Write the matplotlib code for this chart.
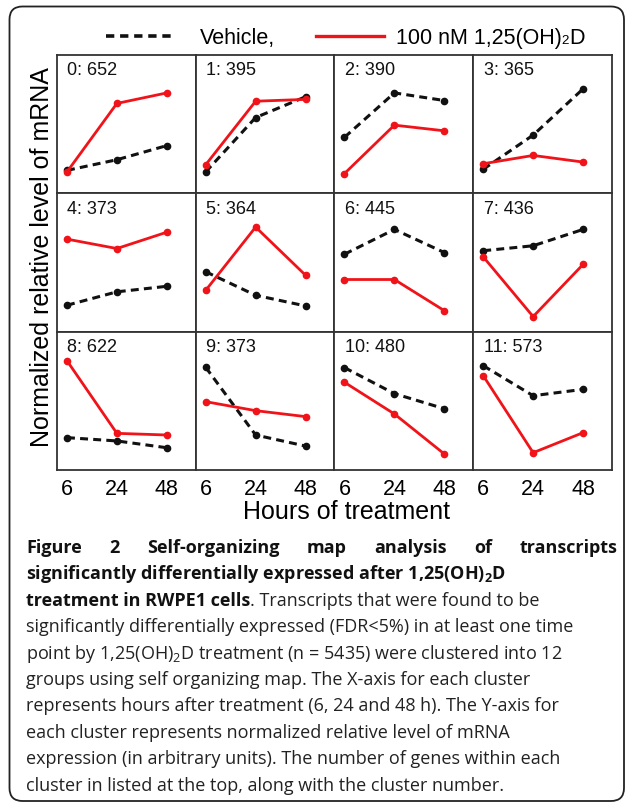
import matplotlib
matplotlib.use("Agg")
import matplotlib.pyplot as plt
from matplotlib.lines import Line2D
from matplotlib.patches import FancyBboxPatch

plt.rcParams['font.family'] = ['Liberation Sans', 'DejaVu Sans']
plt.rcParams['mathtext.fontset'] = 'custom'
plt.rcParams['mathtext.rm'] = 'Open Sans'
plt.rcParams['mathtext.bf'] = 'Open Sans:bold'

# ---------------- data ----------------
hours = ["6", "24", "48"]
cluster_ids = [0, 1, 2, 3, 4, 5, 6, 7, 8, 9, 10, 11]
gene_counts = [652, 395, 390, 365, 373, 364, 445, 436, 622, 373, 480, 573]
vehicle = [
    [0.166, 0.243, 0.345],
    [0.155, 0.548, 0.698],
    [0.405, 0.726, 0.671],
    [0.174, 0.421, 0.755],
    [0.191, 0.288, 0.328],
    [0.433, 0.263, 0.186],
    [0.560, 0.739, 0.572],
    [0.585, 0.621, 0.739],
    [0.234, 0.210, 0.161],
    [0.742, 0.253, 0.173],
    [0.740, 0.552, 0.443],
    [0.754, 0.537, 0.583],
]
treated = [
    [0.155, 0.650, 0.726],
    [0.207, 0.666, 0.679],
    [0.143, 0.493, 0.452],
    [0.214, 0.274, 0.226],
    [0.669, 0.601, 0.719],
    [0.299, 0.756, 0.408],
    [0.377, 0.377, 0.152],
    [0.541, 0.109, 0.486],
    [0.790, 0.265, 0.253],
    [0.494, 0.429, 0.386],
    [0.634, 0.405, 0.116],
    [0.682, 0.125, 0.270],
]
legend_vehicle = "Vehicle,"
legend_treated = ("100 nM 1,25(OH)", "2", "D")
xlabel = "Hours of treatment"
ylabel = "Normalized relative level of mRNA"

W, H = 627, 803
fig = plt.figure(figsize=(W / 100, H / 100), dpi=100)


def fx(x):
    return x / W


def fy(y):
    return 1 - y / H


# outer rounded frame (in inches)
frame = FancyBboxPatch((0.095, (H - 802) / 100), 6.24 - 0.095, (802 - 7.5) / 100,
                       boxstyle="round,pad=0,rounding_size=0.13",
                       transform=fig.dpi_scale_trans, fill=False,
                       edgecolor="#222222", linewidth=1.3)
fig.add_artist(frame)

RED = "#f0141a"
BLK = "#111111"

left, right, top, bottom = 57, 612, 56, 471
cw = (right - left) / 4
rh = (bottom - top) / 3
for i, cid in enumerate(cluster_ids):
    r, c = divmod(i, 4)
    x0 = left + c * cw
    y0 = top + (r + 1) * rh
    ax = fig.add_axes([fx(x0), fy(y0), cw / W, rh / H])
    xs = range(len(hours))
    ax.plot(xs, vehicle[i], color=BLK, ls=(0, (2.6, 1.7)), lw=2.2,
            marker="o", ms=4.5, dash_capstyle="butt")
    ax.plot(xs, treated[i], color=RED, lw=2.0, marker="o", ms=4.5)
    ax.set_xlim(-0.2, 2.58)
    ax.set_ylim(0, 1)
    ax.set_yticks([])
    ax.set_xticks(list(xs))
    if r == 2:
        ax.set_xticklabels(hours, fontsize=15.5)
        ax.tick_params(axis="x", length=0, pad=6)
    else:
        ax.set_xticklabels([])
        ax.tick_params(axis="x", length=0)
    for s in ax.spines.values():
        s.set_linewidth(1.3)
        s.set_color("#333333")
    ax.text(0.075, 0.955, f"{cid}: {gene_counts[i]}", transform=ax.transAxes,
            fontsize=13, va="top", ha="left", color="#111111")

fig.text(fx((left + right) / 2 + 12), fy(512), xlabel, fontsize=18,
         ha="center", va="center")
fig.text(fx(42), fy((top + bottom) / 2 - 6), ylabel, fontsize=18,
         rotation=90, ha="center", va="center")

renderer = fig.canvas.get_renderer()

# legend (drawn by hand to match the spacing)
fig.add_artist(Line2D([fx(106), fx(172)], [fy(37), fy(37)], color=BLK,
                      ls=(0, (2.3, 1.6)), lw=2.6, transform=fig.transFigure))
fig.add_artist(Line2D([fx(316), fx(384)], [fy(37), fy(37)], color=RED,
                      lw=2.4, transform=fig.transFigure))
LEG_SIZE = 15.5
fig.text(fx(200), fy(44), legend_vehicle, fontsize=LEG_SIZE, va="baseline",
         ha="left")
xx = 396
for k, part in enumerate(legend_treated):
    size = LEG_SIZE * 0.62 if k == 1 else LEG_SIZE
    t = fig.text(fx(xx), fy(44), part, fontsize=size, va="baseline", ha="left")
    xx += t.get_window_extent(renderer).width

# caption
CAP_FONT = ['Open Sans', 'DejaVu Sans']
cap_size = 13.0


def text_width(s, weight):
    t = fig.text(0, 0, s, fontsize=cap_size, family=CAP_FONT, fontweight=weight)
    w = t.get_window_extent(renderer).width
    t.remove()
    return w


def draw_line(segments, y, x0=26, justify_to=None):
    if justify_to is not None:
        words = segments[0][0].split(" ")
        weight = segments[0][1]
        ws = [text_width(w, weight) for w in words]
        gap = (justify_to - x0 - sum(ws)) / (len(words) - 1)
        x = x0
        for w, wd in zip(words, ws):
            fig.text(fx(x), fy(y), w, fontsize=cap_size, family=CAP_FONT,
                     fontweight=weight, va="baseline", ha="left",
                     color="#111111")
            x += wd + gap
        return
    x = x0
    for s, weight in segments:
        t = fig.text(fx(x), fy(y), s, fontsize=cap_size, family=CAP_FONT,
                     fontweight=weight, va="baseline", ha="left",
                     color="#111111" if weight == "bold" else "#222222")
        x += t.get_window_extent(renderer).width


lines = [
    ([("Figure 2 Self-organizing map analysis of transcripts", "bold")], 617),
    ([("significantly differentially expressed after 1,25(OH)$_\\mathbf{2}$D", "bold")], None),
    ([("treatment in RWPE1 cells", "bold"), (". Transcripts that were found to be", "normal")], None),
    ([("significantly differentially expressed (FDR<5%) in at least one time", "normal")], None),
    ([("point by 1,25(OH)$_2$D treatment (n = 5435) were clustered into 12", "normal")], None),
    ([("groups using self organizing map. The X-axis for each cluster", "normal")], None),
    ([("represents hours after treatment (6, 24 and 48 h). The Y-axis for", "normal")], None),
    ([("each cluster represents normalized relative level of mRNA", "normal")], None),
    ([("expression (in arbitrary units). The number of genes within each", "normal")], None),
    ([("cluster in listed at the top, along with the cluster number.", "normal")], None),
]
y = 553
for segs, just in lines:
    draw_line(segs, y, justify_to=just)
    y += 26.4

fig.savefig("out.png", dpi=100)
